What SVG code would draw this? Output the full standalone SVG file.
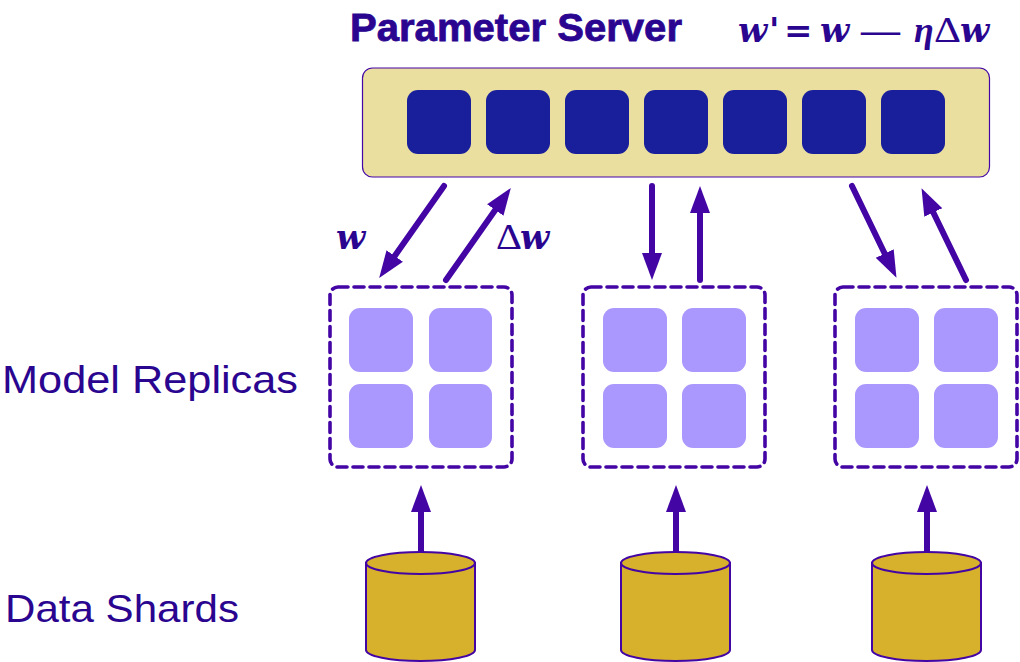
<svg xmlns="http://www.w3.org/2000/svg" width="1020" height="662" viewBox="0 0 1020 662">
<style>
.t{fill:#2a0590;font-family:"Liberation Sans",Arial,sans-serif}
.m{fill:#2a0590;font-family:"DejaVu Serif",serif;font-weight:bold;font-style:italic;font-size:34px}
.g{fill:#2a0590;font-family:"Liberation Serif",serif;font-size:36px}
.p{fill:#191f9a}
.r{fill:#ab98fe}
.d{fill:none;stroke:#4405a5;stroke-width:3.600;stroke-linecap:round;stroke-dasharray:10 6}
.c{fill:#d7b02c;stroke:#4405a5;stroke-width:2}
.a{stroke:#4405a5;stroke-width:6;stroke-linecap:round;fill:none;marker-end:url(#h)}
</style>
<defs>
<marker id="h" markerUnits="userSpaceOnUse" markerWidth="30" markerHeight="24" refX="3" refY="11" orient="auto"><path d="M0 1L27 11L0 21Z" fill="#4405a5"/></marker>
</defs>
<rect width="1020" height="662" fill="#fff"/>
<g id="server">
<rect x="362.500" y="68" width="627" height="109" rx="10" fill="#ebdfa0" stroke="#4405a5" stroke-width="1.200"/>
<rect class="p" x="407" y="90" width="64" height="64" rx="11"/>
<rect class="p" x="486" y="90" width="64" height="64" rx="11"/>
<rect class="p" x="565" y="90" width="64" height="64" rx="11"/>
<rect class="p" x="644" y="90" width="64" height="64" rx="11"/>
<rect class="p" x="723" y="90" width="64" height="64" rx="11"/>
<rect class="p" x="802" y="90" width="64" height="64" rx="11"/>
<rect class="p" x="881" y="90" width="64" height="64" rx="11"/>
</g>
<g id="title-labels">
<text class="t" x="350" y="41" font-size="39" font-weight="bold" stroke="#2a0590" stroke-width="0.800" textLength="332" lengthAdjust="spacingAndGlyphs">Parameter Server</text>
<text class="m" x="738" y="42">w</text>
<text class="m" x="769" y="42" style="font-style:normal">'</text>
<text class="m" x="784" y="42" style="font-style:normal">=</text>
<text class="m" x="820" y="42">w</text>
<text class="g" x="861" y="42" font-weight="bold" textLength="39" lengthAdjust="spacingAndGlyphs">—</text>
<text class="g" x="914" y="42" font-style="italic" font-weight="bold" font-size="34">η</text>
<text class="g" x="934" y="42" textLength="27" lengthAdjust="spacingAndGlyphs">Δ</text>
<text class="m" x="960" y="42">w</text>
<text class="m" x="336" y="249">w</text>
<text class="g" x="496" y="249" textLength="26" lengthAdjust="spacingAndGlyphs">Δ</text>
<text class="m" x="520" y="249">w</text>
<text class="t" x="2" y="393" font-size="39" textLength="296" lengthAdjust="spacingAndGlyphs">Model Replicas</text>
<text class="t" x="5" y="622" font-size="39" textLength="234" lengthAdjust="spacingAndGlyphs">Data Shards</text>
</g>
<g id="replica-1">
<rect class="d" x="330" y="287" width="182" height="180" rx="8"/>
<rect class="r" x="349" y="308" width="64" height="64" rx="11"/>
<rect class="r" x="429" y="308" width="63" height="64" rx="11"/>
<rect class="r" x="349" y="384" width="64" height="64" rx="11"/>
<rect class="r" x="429" y="384" width="63" height="64" rx="11"/>
</g>
<g id="replica-2">
<rect class="d" x="583" y="287" width="182" height="180" rx="8"/>
<rect class="r" x="603" y="308" width="64" height="64" rx="11"/>
<rect class="r" x="682" y="308" width="64" height="64" rx="11"/>
<rect class="r" x="603" y="384" width="64" height="64" rx="11"/>
<rect class="r" x="682" y="384" width="64" height="64" rx="11"/>
</g>
<g id="replica-3">
<rect class="d" x="835" y="287" width="182" height="180" rx="8"/>
<rect class="r" x="855" y="308" width="64" height="64" rx="11"/>
<rect class="r" x="934" y="308" width="64" height="64" rx="11"/>
<rect class="r" x="855" y="384" width="64" height="64" rx="11"/>
<rect class="r" x="934" y="384" width="64" height="64" rx="11"/>
</g>
<g id="connectors">
<line class="a" x1="444" y1="186" x2="393" y2="258.400"/>
<line class="a" x1="446" y1="280" x2="497" y2="207.600"/>
<line class="a" x1="652" y1="186" x2="652" y2="256"/>
<line class="a" x1="700" y1="280" x2="700" y2="210"/>
<line class="a" x1="852" y1="186" x2="886" y2="256.200"/>
<line class="a" x1="966" y1="280" x2="932" y2="209.800"/>
<line class="a" x1="421" y1="552" x2="421" y2="509"/>
<line class="a" x1="676" y1="552" x2="676" y2="509"/>
<line class="a" x1="927" y1="552" x2="927" y2="509"/>
</g>
<g id="shard-1">
<path class="c" d="M366 563V650C366 656 390 661 420.500 661S475 656 475 650V563Z"/>
<ellipse class="c" cx="420.500" cy="563" rx="54.500" ry="11"/>
</g>
<g id="shard-2">
<path class="c" d="M621 563V650C621 656 645 661 675.500 661S730 656 730 650V563Z"/>
<ellipse class="c" cx="675.500" cy="563" rx="54.500" ry="11"/>
</g>
<g id="shard-3">
<path class="c" d="M872 563V650C872 656 896 661 926.500 661S981 656 981 650V563Z"/>
<ellipse class="c" cx="926.500" cy="563" rx="54.500" ry="11"/>
</g>
</svg>
